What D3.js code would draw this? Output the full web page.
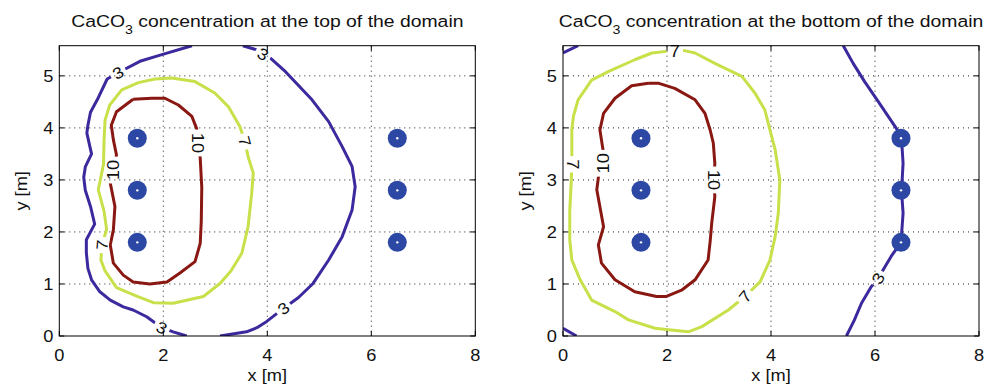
<!DOCTYPE html>
<html lang="en">
<head>
<meta charset="UTF-8">
<title>CaCO3 concentration</title>
<script src="https://d3js.org/d3.v7.min.js"></script>
<style>
    body { margin: 0; background: #fff; }
    svg text { font-family: "Liberation Sans", Arial, sans-serif; fill: #111; }
    .grid line { stroke: #222; stroke-width: 1; stroke-dasharray: 1,4; }
    .frame { fill: none; stroke: #000; stroke-width: 1; }
    .tick { stroke: #000; stroke-width: 1; }
    .contour { fill: none; stroke-width: 3; stroke-linejoin: round; stroke-linecap: butt; }
</style>
</head>
<body>
<div id="chart"></div>
<script>
    // axes
    const xDomain = [0, 8];
    const yDomain = [0, 5.58];
    const xTicks = [0, 2, 4, 6, 8];
    const yTicks = [0, 1, 2, 3, 4, 5];

    // well positions (same in both panels)
    const wellX = [1.5, 1.5, 1.5, 6.5, 6.5, 6.5];
    const wellY = [1.8, 2.8, 3.8, 1.8, 2.8, 3.8];

    const levelColor = { 3: "#3a2a9e", 7: "#c8e04a", 10: "#8a1812" };

    // top of the domain: contour polylines [x, y]
    const top3a = [[2.55,5.58],[1.94,5.40],[1.55,5.28],[1.13,5.06],[0.92,4.94],[0.75,4.58],[0.60,4.30],
        [0.55,4.05],[0.53,3.90],[0.62,3.50],[0.50,3.25],[0.47,3.05],[0.50,2.80],[0.60,2.49],[0.68,2.15],
        [0.52,1.85],[0.52,1.60],[0.55,1.30],[0.62,1.08],[0.78,0.85],[0.98,0.69],[1.23,0.56],[1.42,0.50],
        [1.68,0.37],[1.97,0.16],[2.19,0.08],[2.45,0]];
    const top3b = [[3.53,5.58],[3.80,5.50],[3.92,5.42],[4.06,5.34],[4.35,5.08],[4.86,4.54],[5.18,4.12],
        [5.44,3.64],[5.63,3.26],[5.69,2.87],[5.63,2.42],[5.44,1.91],[5.18,1.46],[4.88,1.01],[4.60,0.74],
        [4.31,0.53],[3.99,0.28],[3.80,0.16],[3.60,0.08],[3.09,0]];
    const top7 = [[1.84,4.94],[2.16,4.96],[2.61,4.89],[2.99,4.67],[3.25,4.41],[3.47,4.03],[3.57,3.74],
        [3.63,3.45],[3.73,3.13],[3.70,2.74],[3.63,2.10],[3.51,1.59],[3.30,1.25],[3.09,1.01],[2.77,0.76],
        [2.19,0.63],[1.81,0.64],[1.50,0.76],[1.10,0.93],[0.88,1.25],[0.80,1.46],[0.82,1.75],[0.91,2.05],
        [0.86,2.40],[0.75,2.81],[0.85,3.30],[0.86,3.75],[0.88,4.15],[0.97,4.44],[1.20,4.73],[1.52,4.87],[1.84,4.94]];
    const top10 = [[1.42,4.55],[1.78,4.57],[2.03,4.57],[2.29,4.44],[2.55,4.22],[2.64,3.99],[2.68,3.70],
        [2.71,3.42],[2.74,2.85],[2.73,2.20],[2.71,1.78],[2.61,1.43],[2.32,1.21],[2.07,1.04],[1.74,1.00],
        [1.42,1.04],[1.23,1.17],[1.04,1.40],[0.98,1.75],[1.04,2.04],[1.07,2.49],[0.98,2.94],[1.04,3.19],
        [1.10,3.48],[1.04,3.77],[1.00,4.05],[1.10,4.31],[1.42,4.55]];

    // bottom of the domain
    const bot3a = [[0,5.44],[0.29,5.58]];
    const bot3b = [[0,0.15],[0.26,0]];
    const bot3c = [[5.39,5.58],[5.58,5.24],[5.80,4.89],[6.06,4.51],[6.41,3.99],[6.51,3.79],[6.54,3.32],
        [6.51,2.79],[6.54,2.36],[6.50,1.80],[6.31,1.53],[6.06,1.11],[5.93,0.95],[5.74,0.63],[5.60,0.30],[5.45,0]];
    const bot7 = [[2.15,5.49],[1.71,5.44],[1.38,5.31],[0.87,5.08],[0.55,4.92],[0.29,4.54],[0.20,4.22],
        [0.17,3.96],[0.17,3.45],[0.16,3.00],[0.13,2.40],[0.13,1.85],[0.17,1.46],[0.33,1.08],[0.55,0.69],
        [1.00,0.47],[1.26,0.31],[1.77,0.15],[2.03,0.12],[2.41,0.08],[2.67,0.18],[3.18,0.50],[3.50,0.76],
        [3.79,1.04],[3.98,1.46],[4.08,1.91],[4.14,2.36],[4.17,3.00],[4.08,3.58],[3.98,3.96],[3.88,4.35],
        [3.69,4.67],[3.44,4.99],[2.92,5.24],[2.54,5.44],[2.31,5.49],[2.15,5.49]];
    const bot10 = [[1.64,4.86],[1.83,4.86],[2.15,4.76],[2.54,4.54],[2.73,4.28],[2.83,3.96],[2.89,3.71],
        [2.92,3.32],[2.90,3.00],[2.92,2.68],[2.86,2.17],[2.83,1.82],[2.79,1.46],[2.54,1.08],[2.28,0.88],
        [1.99,0.76],[1.80,0.76],[1.38,0.85],[1.00,1.08],[0.74,1.40],[0.68,1.75],[0.78,2.10],[0.65,2.81],
        [0.70,3.20],[0.78,3.51],[0.71,3.96],[0.78,4.28],[1.00,4.57],[1.32,4.81],[1.64,4.86]];

    // inline contour labels: [text, x, y, rotation]
    const topLabels = [["3",1.13,5.06,-30],["3",3.92,5.42,30],["3",1.97,0.16,25],["3",4.31,0.53,-38],
        ["10",2.67,3.71,90],["10",1.04,3.19,-90],["7",3.57,3.74,75],["7",0.82,1.75,-85]];
    const botLabels = [["7",2.15,5.47,0],["7",0.19,3.30,90],["10",0.78,3.32,-90],["10",2.90,3.00,90],
        ["7",3.50,0.76,-50],["3",6.06,1.11,-60]];

    const panels = [
        { title: "top", left: 59.3, lines: [[3, top3a], [3, top3b], [7, top7], [10, top10]], labels: topLabels },
        { title: "bottom", left: 563, lines: [[3, bot3a], [3, bot3b], [3, bot3c], [7, bot7], [10, bot10]], labels: botLabels }
    ];

    const width = 995, height = 387;
    const plotTop = 45.7, plotW = 416, plotH = 290.3;
    const stretch = 1.14;   // the original lettering is a bit wider than Liberation Sans

    const svg = d3.select("#chart").append("svg")
        .attr("width", width).attr("height", height);
    const defs = svg.append("defs");

    const x = d3.scaleLinear().domain(xDomain).range([0, plotW]);
    const y = d3.scaleLinear().domain(yDomain).range([plotH, 0]);
    const line = d3.line().x(d => x(d[0])).y(d => y(d[1]));

    function place(tx, ty, rot) {
        return "translate(" + tx + "," + ty + ")" + (rot ? " rotate(" + rot + ")" : "") + " scale(" + stretch + ",1)";
    }

    panels.forEach(function(p, i) {
        const g = svg.append("g").attr("transform", "translate(" + p.left + "," + plotTop + ")");

        defs.append("clipPath").attr("id", "clip" + i)
            .append("rect").attr("width", plotW).attr("height", plotH);

        // grid
        const grid = g.append("g").attr("class", "grid");
        grid.selectAll(".gx").data(xTicks.slice(1, -1)).enter().append("line")
            .attr("x1", d => x(d)).attr("x2", d => x(d)).attr("y1", 0).attr("y2", plotH);
        grid.selectAll(".gy").data(yTicks.slice(1)).enter().append("line")
            .attr("y1", d => y(d)).attr("y2", d => y(d)).attr("x1", 0).attr("x2", plotW);

        // mask with gaps where the labels sit
        const mask = defs.append("mask").attr("id", "mask" + i)
            .attr("maskUnits", "userSpaceOnUse")
            .attr("x", -10).attr("y", -10).attr("width", plotW + 20).attr("height", plotH + 20);
        mask.append("rect").attr("x", -10).attr("y", -10)
            .attr("width", plotW + 20).attr("height", plotH + 20).attr("fill", "#fff");
        mask.selectAll(".gap").data(p.labels).enter().append("rect")
            .attr("x", d => -(d[0].length * 5.2 + 3)).attr("y", -7)
            .attr("width", d => 2 * (d[0].length * 5.2 + 3)).attr("height", 14)
            .attr("fill", "#000")
            .attr("transform", d => "translate(" + x(d[1]) + "," + y(d[2]) + ") rotate(" + d[3] + ")");

        const lines = g.append("g").attr("clip-path", "url(#clip" + i + ")")
            .append("g").attr("mask", "url(#mask" + i + ")");
        lines.selectAll("path").data(p.lines).enter().append("path")
            .attr("class", "contour")
            .attr("stroke", d => levelColor[d[0]])
            .attr("d", d => line(d[1]));

        // contour labels
        g.selectAll(".clabel").data(p.labels).enter().append("text")
            .attr("class", "clabel")
            .attr("font-size", 16)
            .attr("text-anchor", "middle")
            .attr("dy", "0.36em")
            .attr("transform", d => place(x(d[1]), y(d[2]), d[3]))
            .text(d => d[0]);

        // wells
        const wells = g.selectAll(".well").data(wellX).enter().append("g")
            .attr("transform", (d, k) => "translate(" + x(d) + "," + y(wellY[k]) + ")");
        wells.append("circle").attr("r", 9.5).attr("fill", "#2c47a4");
        wells.append("circle").attr("r", 1.2).attr("fill", "#fff");

        // frame and inward ticks on all sides
        g.append("rect").attr("class", "frame").attr("width", plotW).attr("height", plotH);
        xTicks.forEach(function(t) {
            g.append("line").attr("class", "tick").attr("x1", x(t)).attr("x2", x(t)).attr("y1", plotH).attr("y2", plotH - 5);
            g.append("line").attr("class", "tick").attr("x1", x(t)).attr("x2", x(t)).attr("y1", 0).attr("y2", 5);
        });
        yTicks.forEach(function(t) {
            g.append("line").attr("class", "tick").attr("y1", y(t)).attr("y2", y(t)).attr("x1", 0).attr("x2", 5);
            g.append("line").attr("class", "tick").attr("y1", y(t)).attr("y2", y(t)).attr("x1", plotW).attr("x2", plotW - 5);
        });

        // tick labels
        g.selectAll(".xl").data(xTicks).enter().append("text")
            .attr("transform", d => place(x(d), plotH + 24.5))
            .attr("text-anchor", "middle").attr("font-size", 16).text(d => d);
        g.selectAll(".yl").data(yTicks).enter().append("text")
            .attr("transform", d => place(-6, y(d)))
            .attr("dy", "0.36em")
            .attr("text-anchor", "end").attr("font-size", 16).text(d => d);

        // axis labels
        g.append("text").attr("transform", place(plotW / 2, plotH + 45))
            .attr("text-anchor", "middle").attr("font-size", 16).text("x [m]");
        g.append("text").attr("transform", place(-32, plotH / 2, -90))
            .attr("text-anchor", "middle").attr("font-size", 16).text("y [m]");

        // title with subscript
        const title = g.append("text").attr("transform", place(plotW / 2, -18.5))
            .attr("text-anchor", "middle").attr("font-size", 17);
        title.append("tspan").text("CaCO");
        title.append("tspan").attr("font-size", 12.5).attr("dy", 7).text("3");
        title.append("tspan").attr("dy", -7).text(" concentration at the " + p.title + " of the domain");
    });
</script>
</body>
</html>
